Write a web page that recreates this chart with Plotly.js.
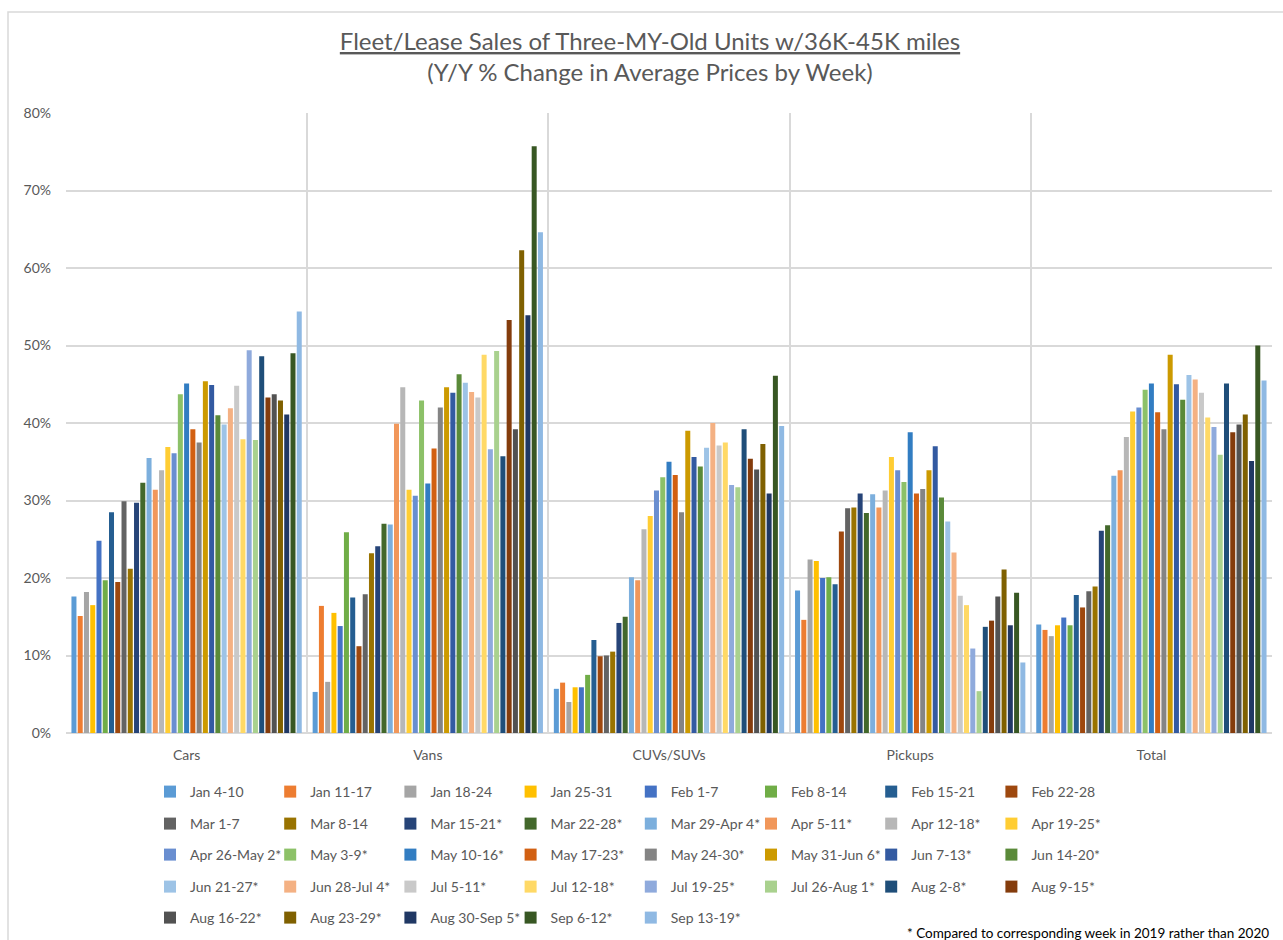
<!DOCTYPE html>
<html>
<head>
<meta charset="utf-8">
<script src="https://cdn.plot.ly/plotly-3.0.1.min.js"></script>
<style>
  html, body { margin: 0; padding: 0; background: #ffffff; }
  #chart { width: 1283px; height: 940px; }
</style>
</head>
<body>
<div id="chart"></div>
<script>
// ---- Data ----
const categories = ["Cars", "Vans", "CUVs/SUVs", "Pickups", "Total"];

const weeks = [
  "Jan 4-10", "Jan 11-17", "Jan 18-24", "Jan 25-31", "Feb 1-7", "Feb 8-14", "Feb 15-21", "Feb 22-28",
  "Mar 1-7", "Mar 8-14", "Mar 15-21*", "Mar 22-28*", "Mar 29-Apr 4*", "Apr 5-11*", "Apr 12-18*", "Apr 19-25*",
  "Apr 26-May 2*", "May 3-9*", "May 10-16*", "May 17-23*", "May 24-30*", "May 31-Jun 6*", "Jun 7-13*", "Jun 14-20*",
  "Jun 21-27*", "Jun 28-Jul 4*", "Jul 5-11*", "Jul 12-18*", "Jul 19-25*", "Jul 26-Aug 1*", "Aug 2-8*", "Aug 9-15*",
  "Aug 16-22*", "Aug 23-29*", "Aug 30-Sep 5*", "Sep 6-12*", "Sep 13-19*"
];

// Y/Y % change, one value per week, for each category
const cars = [17.6, 15.1, 18.2, 16.5, 24.8, 19.7, 28.5, 19.5, 29.9, 21.2, 29.7, 32.3, 35.5, 31.4, 33.9, 36.9,
  36.1, 43.7, 45.1, 39.2, 37.5, 45.4, 44.9, 41.0, 39.8, 41.9, 44.8, 37.9, 49.4, 37.8, 48.6, 43.3,
  43.7, 42.9, 41.1, 49.0, 54.4];
const vans = [5.3, 16.4, 6.6, 15.5, 13.8, 25.9, 17.5, 11.2, 17.9, 23.2, 24.1, 27.0, 26.9, 39.9, 44.6, 31.4,
  30.6, 42.9, 32.2, 36.7, 42.0, 44.6, 43.9, 46.3, 45.2, 44.0, 43.3, 48.8, 36.6, 49.3, 35.7, 53.3,
  39.2, 62.3, 53.9, 75.7, 64.6];
const cuvs = [5.7, 6.5, 4.0, 5.9, 5.9, 7.5, 12.0, 9.9, 10.0, 10.5, 14.2, 15.0, 20.1, 19.7, 26.3, 28.0,
  31.3, 33.0, 35.0, 33.3, 28.5, 39.0, 35.6, 34.4, 36.8, 40.0, 37.1, 37.5, 32.0, 31.7, 39.2, 35.4,
  34.0, 37.3, 30.9, 46.1, 39.6];
const pickups = [18.4, 14.6, 22.4, 22.2, 20.0, 20.1, 19.2, 26.0, 29.0, 29.1, 30.9, 28.4, 30.8, 29.1, 31.3, 35.6,
  33.9, 32.4, 38.8, 30.9, 31.5, 33.9, 37.0, 30.4, 27.3, 23.3, 17.7, 16.5, 10.9, 5.4, 13.7, 14.5,
  17.6, 21.1, 13.9, 18.1, 9.1];
const total = [14.0, 13.3, 12.5, 13.9, 14.9, 13.9, 17.8, 16.2, 18.3, 18.9, 26.1, 26.8, 33.2, 33.9, 38.2, 41.5,
  42.0, 44.3, 45.1, 41.4, 39.2, 48.8, 45.0, 43.0, 46.2, 45.6, 43.9, 40.7, 39.5, 35.9, 45.1, 38.8,
  39.8, 41.1, 35.1, 50.0, 45.5];

const yTickVals = [0, 10, 20, 30, 40, 50, 60, 70, 80];
const yTickText = ["0%", "10%", "20%", "30%", "40%", "50%", "60%", "70%", "80%"];

// ---- Styles ----
const colors = [
  "#5B9BD5", "#ED7D31", "#A5A5A5", "#FFC000", "#4472C4", "#70AD47", "#255E91", "#9E480E",
  "#636363", "#997300", "#264478", "#43682B", "#7CAFDD", "#F1975A", "#B7B7B7", "#FFCD33",
  "#698ED0", "#8CC168", "#327DC2", "#D26012", "#848484", "#CC9A00", "#335AA1", "#5A8A39",
  "#9DC3E6", "#F4B183", "#C9C9C9", "#FFD966", "#8FAADC", "#A9D18E", "#1F4E79", "#843C0C",
  "#525252", "#7F6000", "#203864", "#385723", "#8FB9E3"
];

const FONT = "Lato, 'Open Sans', sans-serif";
const TXT = "#595959";
const GRID = "#d9d9d9";

// plot area geometry (pixels)
const W = 1283, H = 940;
const mL = 66, mR = 11, mT = 113, mB = 207;
const pw = W - mL - mR, ph = H - mT - mB;
const px = (x) => (x - mL) / pw;          // page x -> paper x
const py = (y) => (H - mB - y) / ph;      // page y -> paper y

const legendNames = ["legend", "legend2", "legend3", "legend4", "legend5"];
const perRow = 8;

const traces = weeks.map((w, i) => ({
  type: "bar",
  name: w,
  x: categories,
  y: [cars[i], vans[i], cuvs[i], pickups[i], total[i]],
  marker: { color: colors[i], line: { width: 0 } },
  legend: legendNames[Math.floor(i / perRow)],
  hovertemplate: "%{x}<br>" + w + ": %{y:.1f}%<extra></extra>"
}));

const rowTops = [776, 808, 839, 871, 902];
const legendBase = {
  orientation: "h",
  xanchor: "left",
  yanchor: "top",
  x: px(150),
  entrywidth: 75.2,
  entrywidthmode: "pixels",
  font: { family: FONT, size: 14, color: TXT },
  bgcolor: "rgba(0,0,0,0)",
  borderwidth: 0,
  traceorder: "normal",
  itemclick: false,
  itemdoubleclick: false
};

const layout = {
  width: W,
  height: H,
  paper_bgcolor: "#ffffff",
  plot_bgcolor: "#ffffff",
  margin: { l: mL, r: mR, t: mT, b: mB, autoexpand: false },
  font: { family: FONT, color: TXT, size: 14 },
  title: {
    text: "<u>Fleet/Lease Sales of Three-MY-Old Units w/36K-45K miles</u><br>(Y/Y % Change in Average Prices by Week)",
    font: { family: FONT, size: 24, color: TXT },
    xref: "container",
    x: 650 / W,
    xanchor: "center",
    yref: "container",
    y: 1 - 50 / H,
    yanchor: "top"
  },
  barmode: "group",
  bargap: 0.04,
  bargroupgap: 0.2,
  showlegend: true,
  xaxis: {
    type: "category",
    showgrid: true,
    gridcolor: GRID,
    gridwidth: 1.5,
    tickson: "boundaries",
    ticks: "",
    showline: false,
    zeroline: false,
    tickfont: { family: FONT, size: 14, color: TXT },
    ticklabelstandoff: 12,
    fixedrange: true
  },
  yaxis: {
    range: [0, 80],
    tickmode: "array",
    tickvals: yTickVals,
    ticktext: yTickText,
    showgrid: true,
    gridcolor: GRID,
    gridwidth: 1.5,
    zeroline: true,
    zerolinecolor: GRID,
    zerolinewidth: 1.5,
    showline: false,
    ticks: "",
    tickfont: { family: FONT, size: 14, color: TXT },
    ticklabelstandoff: 14,
    fixedrange: true
  },
  shapes: [{
    type: "rect",
    xref: "paper", yref: "paper",
    x0: px(8), x1: px(1300), y0: py(960), y1: py(12),
    line: { color: GRID, width: 1.5 },
    fillcolor: "rgba(0,0,0,0)",
    layer: "below"
  }],
  annotations: [{
    text: "* Compared to corresponding week in 2019 rather than 2020",
    xref: "paper", yref: "paper",
    x: px(905), y: py(933),
    xanchor: "left", yanchor: "middle",
    showarrow: false,
    font: { family: FONT, size: 13.5, color: "#000000" }
  }]
};

legendNames.forEach((ln, k) => {
  layout[ln] = Object.assign({}, legendBase, { y: py(rowTops[k]) });
});

Plotly.newPlot("chart", traces, layout, { displayModeBar: false, staticPlot: false, responsive: false });
</script>
</body>
</html>
